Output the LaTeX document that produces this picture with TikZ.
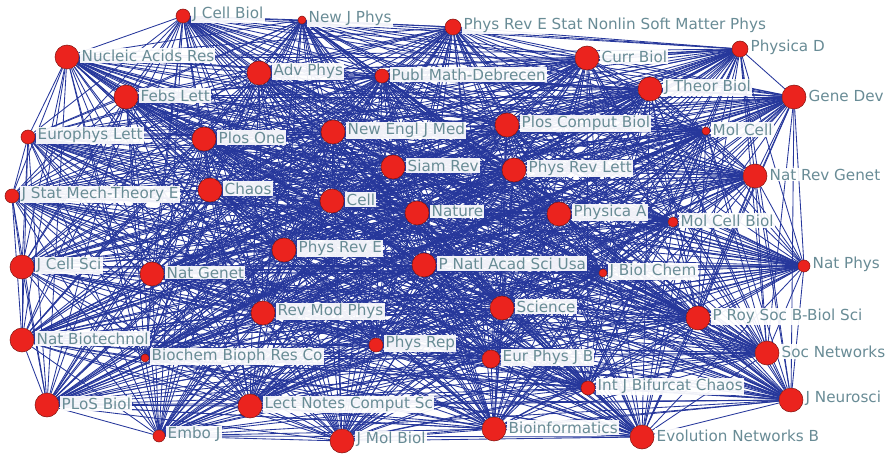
\documentclass[tikz,border=0pt]{standalone}
\usepackage{fontspec}
\setmainfont{DejaVu Sans}
\pgfdeclarelayer{links}
\pgfsetlayers{links,main}
\definecolor{linkblue}{RGB}{38,55,155}
\definecolor{dotred}{RGB}{235,35,30}
\definecolor{labelgray}{RGB}{105,140,150}
\tikzset{
  journal/.style={circle,fill=dotred,draw=dotred!55!black,line width=0.5pt,inner sep=0pt,minimum size=#1},
  tag/.style={anchor=west,fill=white,fill opacity=0.93,text opacity=1,text=labelgray,
    inner sep=1.2pt,font=\fontsize{15.2}{16}\selectfont},
  link/.style={draw=linkblue,line width=0.85pt}
}
\begin{document}
\begin{tikzpicture}[x=1pt,y=1pt]
\useasboundingbox (0,0) rectangle (889,456);
% journals: index / x / y (from top) / radius / title
\foreach \k/\x/\y/\r/\t in {
 1/183/16/7/J Cell Biol,
 2/302/20/4/New J Phys,
 3/453/27/8/Phys Rev E Stat Nonlin Soft Matter Phys,
 4/67/57/12/Nucleic Acids Res,
 5/259/73/12/Adv Phys,
 6/382/76/7/Publ Math-Debrecen,
 7/587/58/12/Curr Biol,
 8/740/49/8/Physica D,
 9/650/89/12/J Theor Biol,
 10/794/97/12/Gene Dev,
 11/126/97/12/Febs Lett,
 12/28/137/7/Europhys Lett,
 13/204/139/12/Plos One,
 14/333/132/12/New Engl J Med,
 15/507/125/12/Plos Comput Biol,
 16/706/131/4/Mol Cell,
 17/393/167/12/Siam Rev,
 18/514/170/12/Phys Rev Lett,
 19/210/190/12/Chaos,
 20/332/201/12/Cell,
 21/755/176/12/Nat Rev Genet,
 22/12/196/7/J Stat Mech-Theory E,
 23/417/213/12/Nature,
 24/559/214/12/Physica A,
 25/673/222/5/Mol Cell Biol,
 26/284/250/12/Phys Rev E,
 27/424/265/12/P Natl Acad Sci Usa,
 28/603/273/4/J Biol Chem,
 29/804/266/6/Nat Phys,
 30/22/267/12/J Cell Sci,
 31/152/274/12/Nat Genet,
 32/263/313/12/Rev Mod Phys,
 33/502/308/12/Science,
 34/698/318/12/P Roy Soc B-Biol Sci,
 35/22/340/12/Nat Biotechnol,
 36/145/358/4/Biochem Bioph Res Co,
 37/376/345/7/Phys Rep,
 38/491/359/9/Eur Phys J B,
 39/767/353/12/Soc Networks,
 40/588/388/7/Int J Bifurcat Chaos,
 41/47/405/12/PLoS Biol,
 42/250/406/12/Lect Notes Comput Sc,
 43/791/400/12/J Neurosci,
 44/159/436/6/Embo J,
 45/342/441/12/J Mol Biol,
 46/494/429/12/Bioinformatics,
 47/642/437/12/Evolution Networks B}
{
  \node[journal=2*\r pt] (v\k) at (\x,456-\y) {};
  \node[tag] (l\k) at ([xshift=1pt,yshift=1.5pt]v\k.east) {\t};
}
% co-citation links between every pair of journals
\begin{pgfonlayer}{links}
\foreach \i in {1,...,47}{
  \foreach \j in {1,...,47}{
    \ifnum\i<\j \draw[link] (v\i) -- (v\j);\fi
  }
}
\end{pgfonlayer}
\end{tikzpicture}
\end{document}
